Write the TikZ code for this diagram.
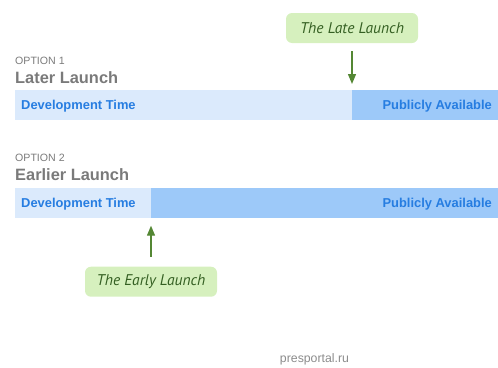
\documentclass[tikz,border=0pt]{standalone}
\usepackage{fontspec}
\setmainfont{Liberation Sans}
\newfontfamily\notefont{PT Sans}
\usetikzlibrary{arrows.meta}
\definecolor{devblue}{RGB}{219,234,252}
\definecolor{pubblue}{RGB}{157,201,249}
\definecolor{barblue}{RGB}{38,125,225}
\definecolor{optgray}{RGB}{122,122,122}
\definecolor{srcgray}{RGB}{140,140,140}
\definecolor{notefill}{RGB}{214,240,190}
\definecolor{notegreen}{RGB}{52,95,34}
\definecolor{arrowgreen}{RGB}{84,135,52}
\tikzset{
  optlabel/.style={inner sep=0pt,text=optgray,font=\fontsize{10.6}{12}\selectfont},
  titlelabel/.style={inner sep=0pt,text=optgray,font=\fontsize{16.4}{19}\selectfont\bfseries},
  devbar/.style={fill=devblue,inner sep=0pt,minimum height=30},
  pubbar/.style={fill=pubblue,inner sep=0pt,minimum height=30},
  bartext/.style={inner sep=0pt,text=barblue,font=\fontsize{12.9}{15}\selectfont\bfseries},
  note/.style={fill=notefill,rounded corners=6pt,minimum width=132,minimum height=30,
    inner sep=0pt,text=notegreen,font=\notefont\itshape\fontsize{15.5}{18}\selectfont},
  notearrow/.style={->,arrowgreen,line width=1.3pt}
}

\begin{document}
\begin{tikzpicture}[x=1pt,y=-1pt,>={Triangle[length=10pt,width=8pt]}]
  \useasboundingbox (0,0) rectangle (498,367);
  % the two options, the second one shifted down
  \foreach \n/\dy/\cut/\name in {1/0/352/Later Launch,2/97.3/151/Earlier Launch}{
    \begin{scope}[yshift=-\dy pt]
      \node (opt\n) [optlabel,anchor=base west] at (15,64.3) {OPTION \n};
      \node (title\n) [titlelabel,anchor=base west] at (15,83.3) {\name};
      \node (dev\n) [devbar,anchor=north west,minimum width=\cut-15] at (15,90) {};
      \node (pub\n) [pubbar,anchor=north west,minimum width=498-\cut] at (\cut,90) {};
      \node (devtext\n) [bartext,anchor=base west] at (21,109.8) {Development Time};
      \node (pubtext\n) [bartext,anchor=base east] at (492,109.8) {Publicly Available};
    \end{scope}
  }
  % launch notes
  \node (latenote) [note] at (352,28) {The Late Launch};
  \draw[notearrow,shorten <=8pt,shorten >=6pt] (latenote) -- (pub1.north west);
  \node (earlynote) [note] at (151,281.7) {The Early Launch};
  \draw[notearrow,shorten <=9.7pt,shorten >=8pt] (earlynote) -- (pub2.south west);
  \node (source) [inner sep=0pt,text=srcgray,font=\fontsize{12.3}{14}\selectfont,anchor=base] at (314.5,362.5) {presportal.ru};
\end{tikzpicture}
\end{document}
